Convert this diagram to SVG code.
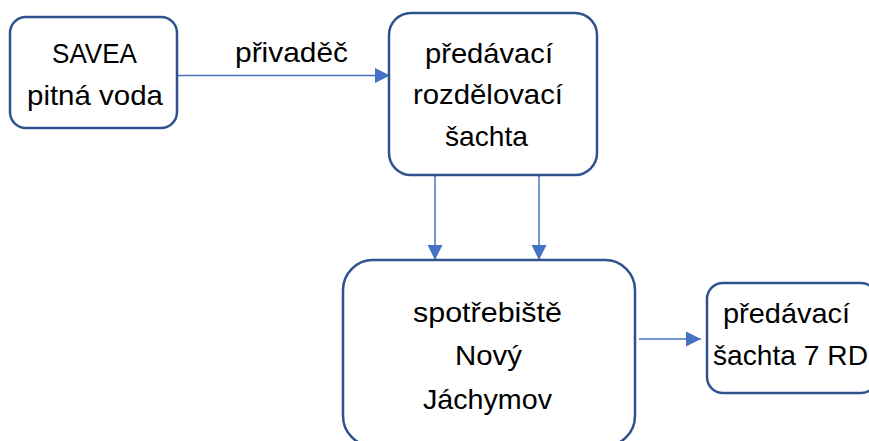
<svg xmlns="http://www.w3.org/2000/svg" width="869" height="441" viewBox="0 0 869 441">
<style>
.box{fill:#fff;stroke:#2F528F;stroke-width:2.5}
.t{font-family:"Liberation Sans",Arial,sans-serif;font-size:28px;fill:#000}
.c{stroke:#4472C4;stroke-width:1.5;fill:none}
</style>
<defs>
<marker id="ah" viewBox="0 0 10 10" refX="10" refY="5" markerUnits="userSpaceOnUse" markerWidth="17" markerHeight="15" orient="auto">
<path d="M0,0 L10,5 L0,10 Z" fill="#4472C4"/>
</marker>
</defs>
<rect width="869" height="441" fill="#fff"/>
<g id="connectors">
<line class="c" x1="177" y1="75.5" x2="390" y2="75.5" marker-end="url(#ah)"/>
<line class="c" x1="435" y1="176" x2="435" y2="260" marker-end="url(#ah)"/>
<line class="c" x1="539" y1="176" x2="539" y2="260" marker-end="url(#ah)"/>
<line class="c" x1="639" y1="339" x2="701" y2="339" marker-end="url(#ah)"/>
<text class="t" x="235" y="62" textLength="113" lengthAdjust="spacingAndGlyphs">přivaděč</text>
</g>
<g id="savea">
<rect class="box" x="10" y="17" width="167" height="111" rx="16"/>
<text class="t" x="52" y="63" textLength="85" lengthAdjust="spacingAndGlyphs">SAVEA</text>
<text class="t" x="27" y="105" textLength="136" lengthAdjust="spacingAndGlyphs">pitná voda</text>
</g>
<g id="rozdelovaci">
<rect class="box" x="389" y="13" width="208" height="162" rx="22"/>
<text class="t" x="425" y="63" textLength="128" lengthAdjust="spacingAndGlyphs">předávací</text>
<text class="t" x="413" y="104" textLength="150" lengthAdjust="spacingAndGlyphs">rozdělovací</text>
<text class="t" x="445" y="146" textLength="83" lengthAdjust="spacingAndGlyphs">šachta</text>
</g>
<g id="spotrebiste">
<rect class="box" x="343" y="260" width="292" height="186" rx="30"/>
<text class="t" x="413" y="322" textLength="149" lengthAdjust="spacingAndGlyphs">spotřebiště</text>
<text class="t" x="455" y="365" textLength="67" lengthAdjust="spacingAndGlyphs">Nový</text>
<text class="t" x="423" y="409" textLength="129" lengthAdjust="spacingAndGlyphs">Jáchymov</text>
</g>
<g id="sachta7">
<rect class="box" x="707" y="283" width="170" height="110" rx="16"/>
<text class="t" x="723" y="323" textLength="127" lengthAdjust="spacingAndGlyphs">předávací</text>
<text class="t" x="713" y="365" textLength="155" lengthAdjust="spacingAndGlyphs">šachta 7 RD</text>
</g>
</svg>
